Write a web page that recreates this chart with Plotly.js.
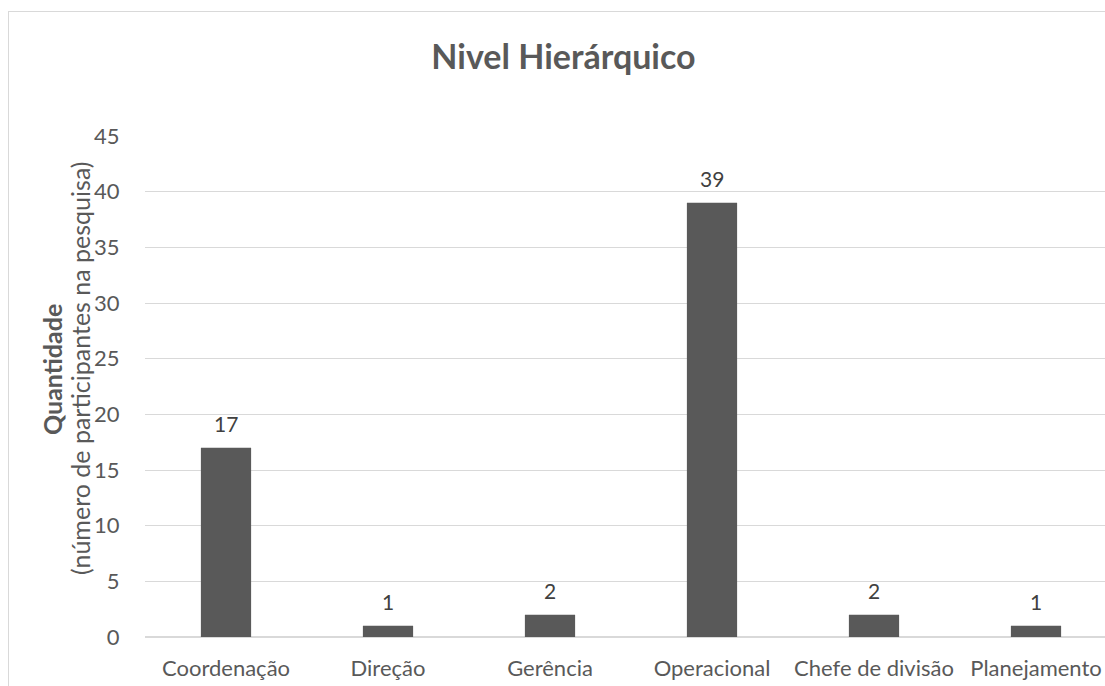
<!DOCTYPE html>
<html><head><meta charset="utf-8">
<script src="https://cdn.plot.ly/plotly-3.0.1.min.js"></script>
<style>
html,body{margin:0;padding:0;overflow:hidden;background:#fff;width:1105px;height:686px;}
#frame{position:absolute;left:8px;top:11px;width:1140px;height:700px;border:1px solid #d9d9d9;box-sizing:border-box;}
#chart{position:absolute;left:0;top:0;width:1125px;height:686px;}
</style></head>
<body>
<div id="frame"></div>
<div id="chart"></div>
<script>
const categories = ["Coordenação","Direção","Gerência","Operacional","Chefe de divisão","Planejamento"];
const values = [17,1,2,39,2,1];
const yTicks = [0,5,10,15,20,25,30,35,40,45];
const yTitleMain = "Quantidade";
const yTitleSub = "(número de participantes na pesquisa)";

const font = "Lato, 'Open Sans', sans-serif";
const L = 145, R = 1117, T = 136, B = 637;
const px = v => (v - L) / (R - L);
const py = v => (B - v) / (B - T);

const labels = categories.map((c,i)=>({
  x:c, y:values[i], xref:'x', yref:'y', text:String(values[i]), showarrow:false,
  yanchor:'bottom', yshift:10, font:{family:font,size:21,color:'#404040'}
}));
labels.push({xref:'paper', yref:'paper', x:px(52), y:py(370), xanchor:'center', yanchor:'middle',
  text:'<b>'+yTitleMain+'</b>', textangle:-90, showarrow:false, font:{family:font,size:25,color:'#595959'}});
labels.push({xref:'paper', yref:'paper', x:px(80), y:py(368), xanchor:'center', yanchor:'middle',
  text:yTitleSub, textangle:-90, showarrow:false, font:{family:font,size:25,color:'#595959'}});

Plotly.newPlot('chart',[{
  type:'bar', x:categories, y:values,
  marker:{color:'#595959'},
  hoverinfo:'skip'
}],{
  width:1125, height:686,
  margin:{l:L,r:1125-R,t:T,b:686-B},
  paper_bgcolor:'rgba(0,0,0,0)', plot_bgcolor:'rgba(0,0,0,0)',
  bargap:0.69,
  showlegend:false,
  annotations:labels,
  title:{text:'<b>Nivel Hierárquico</b>', x:563.5/1125, xref:'container', xanchor:'center', y:1-57/686, yanchor:'middle', yref:'container',
    font:{family:font,size:34,color:'#595959'}},
  xaxis:{type:'category', tickfont:{family:font,size:22,color:'#595959'}, showline:false, ticks:'outside', ticklen:12, tickcolor:'rgba(0,0,0,0)', showgrid:false, zeroline:false},
  yaxis:{range:[0,45], tickvals:yTicks, ticktext:yTicks.map(String), showgrid:true, gridcolor:'#d9d9d9', gridwidth:1,
    zeroline:true, zerolinecolor:'#d9d9d9', zerolinewidth:2, showline:false,
    ticks:'outside', ticklen:20, tickcolor:'rgba(0,0,0,0)',
    tickfont:{family:font,size:22,color:'#595959'}}
},{staticPlot:true});
</script>
</body></html>
